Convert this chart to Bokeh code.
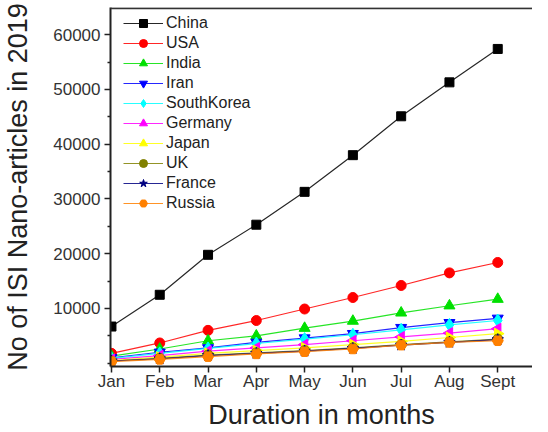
import math
from bokeh.plotting import figure
from bokeh.models import FixedTicker, Legend, LegendItem, Span, Range1d
from bokeh.embed import file_html
from bokeh.resources import INLINE

# ---- data ----
months = ["Jan", "Feb", "Mar", "Apr", "May", "Jun", "Jul", "Aug", "Sept"]
month_pos = [1, 2, 3, 4, 5, 6, 7, 8, 9]
china = [6700, 12500, 19800, 25300, 31300, 38000, 45100, 51300, 57400]
usa = [1800, 3700, 6000, 7800, 9900, 12000, 14200, 16500, 18400]
india = [1300, 2600, 4100, 5000, 6400, 7700, 9200, 10500, 11700]
iran = [1000, 2000, 2800, 3800, 4600, 5400, 6500, 7400, 8200]
south_korea = [900, 1800, 2700, 3600, 4400, 5200, 6100, 7000, 7800]
germany = [700, 1400, 2200, 2800, 3400, 4100, 4800, 5500, 6300]
japan = [500, 1100, 1800, 2300, 2800, 3400, 4000, 4700, 5400]
uk = [400, 900, 1500, 1900, 2300, 2800, 3400, 3900, 4400]
france = [400, 800, 1400, 1800, 2200, 2700, 3300, 3800, 4300]
russia = [300, 700, 1200, 1700, 2100, 2600, 3300, 3800, 4100]
y_major = [10000, 20000, 30000, 40000, 50000, 60000]
y_minor = [0, 5000, 15000, 25000, 35000, 45000, 55000]
x_title = "Duration in months"
y_title = "No of ISI Nano-articles in 2019"

series = [
    ("China", china, "#000000", "square", 0, 9),
    ("USA", usa, "#ff0000", "circle", 0, 10),
    ("India", india, "#00e000", "triangle", 0, 11),
    ("Iran", iran, "#0000ff", "inverted_triangle", 0, 11),
    ("SouthKorea", south_korea, "#00ffff", "diamond", 0, 13),
    ("Germany", germany, "#ff00ff", "triangle", math.pi / 2, 11),
    ("Japan", japan, "#ffff00", "triangle", -math.pi / 2, 11),
    ("UK", uk, "#808000", "circle", 0, 10),
    ("France", france, "#000080", "star", 0, 12),
    ("Russia", russia, "#ff8000", "hex", 0, 11),
]

FONT = "Liberation Sans"
y0, y1 = -600, 64970

p = figure(width=532, height=432, output_backend="svg", toolbar_location=None,
           x_range=Range1d(0.98, 9.72), y_range=Range1d(y0, y1),
           min_border_left=105, min_border_right=0, min_border_top=7,
           min_border_bottom=66)
p.outline_line_color = None
p.grid.visible = False
p.background_fill_color = "white"
p.border_fill_color = "white"

items = []
for name, vals, color, marker, ang, size in series:
    lr = p.line(month_pos, vals, line_color=color, line_width=1.2, line_alpha=0.85)
    sr = p.scatter(month_pos, vals, marker=marker, angle=ang, size=size,
                   fill_color=color, line_color=color)
    items.append(LegendItem(label=name, renderers=[lr, sr]))

legend = Legend(items=items, location=(13, 153), padding=0, margin=0,
                spacing=0, label_height=20, glyph_height=20, glyph_width=40,
                label_standoff=3, border_line_color=None,
                background_fill_alpha=0,
                label_text_font=FONT, label_text_font_size="16px",
                label_text_color="#222222")
p.add_layout(legend, "center")

p.xaxis.ticker = FixedTicker(ticks=month_pos)
p.xaxis.major_label_overrides = {m: lab for m, lab in zip(month_pos, months)}
p.yaxis.ticker = FixedTicker(ticks=y_major, minor_ticks=y_minor)

for ax in (p.xaxis, p.yaxis):
    ax.axis_line_width = 2
    ax.axis_line_color = "#222222"
    ax.major_tick_line_width = 1.5
    ax.major_tick_line_color = "#222222"
    ax.minor_tick_line_width = 1.5
    ax.minor_tick_line_color = "#222222"
    ax.major_tick_in = 0
    ax.major_tick_out = 6
    ax.minor_tick_in = 0
    ax.minor_tick_out = 3
    ax.major_label_text_font = FONT
    ax.major_label_text_font_size = "17px"
    ax.major_label_text_color = "#333333"
    ax.axis_label_text_font = FONT
    ax.axis_label_text_font_size = "27px"
    ax.axis_label_text_font_style = "normal"
    ax.axis_label_text_color = "#222222"

p.xaxis.minor_tick_out = 0
p.xaxis.major_label_standoff = -1
p.xaxis.axis_label = x_title
p.xaxis.axis_label_standoff = 6
p.yaxis.major_label_standoff = 4
p.yaxis.axis_label = y_title
p.yaxis.axis_label_standoff = 17

p.add_layout(Span(location=y1 - 150, dimension="width", line_width=2,
                  line_color="#333333"))

open("out.html", "w").write(file_html(p, INLINE))
